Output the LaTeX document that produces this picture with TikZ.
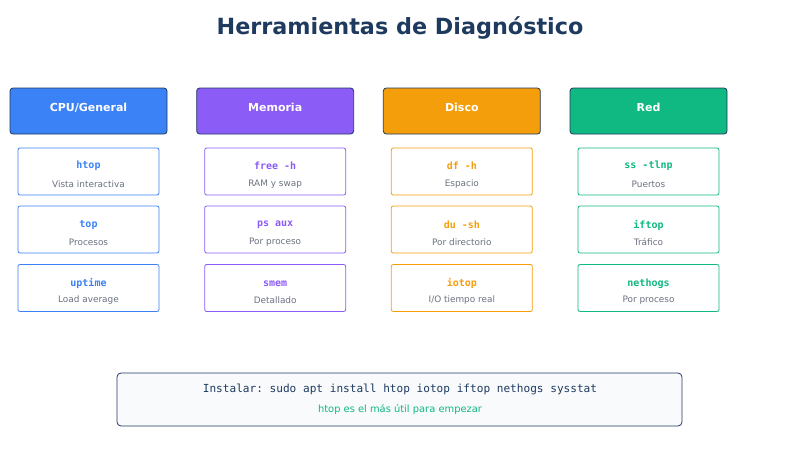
\documentclass[tikz,border=0pt]{standalone}
\usepackage{fontspec}
\setmainfont{DejaVu Sans}
\setmonofont{DejaVu Sans Mono}
\definecolor{navy}{HTML}{1E3A5F}
\definecolor{cblue}{HTML}{3B82F6}
\definecolor{cpurple}{HTML}{8B5CF6}
\definecolor{corange}{HTML}{F59E0B}
\definecolor{cgreen}{HTML}{10B981}
\definecolor{gtext}{HTML}{6B7280}
\definecolor{bfill}{HTML}{F8FAFC}
\tikzset{
  hdr/.style={draw=navy,line width=0.8pt,rounded corners=3pt,minimum width=157pt,minimum height=46pt,inner sep=0pt},
  hdrtext/.style={text=white,font=\bfseries\fontsize{11}{13}\selectfont},
  item/.style={draw=#1,line width=0.8pt,fill=white,rounded corners=2pt,minimum width=141pt,minimum height=47pt,inner sep=0pt},
  cmd/.style={text=#1,font=\ttfamily\bfseries\fontsize{10}{12}\selectfont},
  desc/.style={text=gtext,font=\fontsize{8.9}{10}\selectfont},
}
\begin{document}
\begin{tikzpicture}[x=1pt,y=-1pt]
\useasboundingbox (0,0) rectangle (800,450);
\node[text=navy,font=\bfseries\fontsize{22.3}{26}\selectfont] (title) at (400,28) {Herramientas de Diagnóstico};
\foreach \i/\c/\h/\ca/\da/\cb/\db/\cc/\dc in {
 0/cblue/CPU\slash General/htop/Vista interactiva/top/Procesos/uptime/Load average,
 1/cpurple/Memoria/free -h/RAM y swap/ps aux/Por proceso/smem/Detallado,
 2/corange/Disco/df -h/Espacio/du -sh/Por directorio/iotop/{I\slash O tiempo real},
 3/cgreen/Red/ss -tlnp/Puertos/iftop/Tráfico/nethogs/Por proceso}{
  \pgfmathsetmacro{\xc}{88.5+186.67*\i}
  \node[hdr,fill=\c] (h\i) at (\xc,111) {};
  \node[hdrtext] (ht\i) at (\xc,107.5) {\h};
  \node[item=\c] (a\i) at (\xc,171.5) {};
  \node[cmd=\c] (ac\i) at (\xc,166) {\ca};
  \node[desc] (ad\i) at (\xc,184) {\da};
  \node[item=\c] (b\i) at (\xc,229.5) {};
  \node[cmd=\c] (bc\i) at (\xc,225) {\cb};
  \node[desc] (bd\i) at (\xc,242) {\db};
  \node[item=\c] (c\i) at (\xc,288) {};
  \node[cmd=\c] (cc\i) at (\xc,283.5) {\cc};
  \node[desc] (cd\i) at (\xc,300.5) {\dc};
}
\node[draw=navy,line width=0.8pt,fill=bfill,rounded corners=4pt,minimum width=565pt,minimum height=53pt] (inst) at (399.5,399.5) {};
\node[text=navy,font=\ttfamily\fontsize{11.1}{13}\selectfont] (instt) at (400,389) {Instalar: sudo apt install htop iotop iftop nethogs sysstat};
\node[text=cgreen,font=\fontsize{9.9}{11}\selectfont] (tip) at (400,410) {htop es el más útil para empezar};
\end{tikzpicture}
\end{document}
